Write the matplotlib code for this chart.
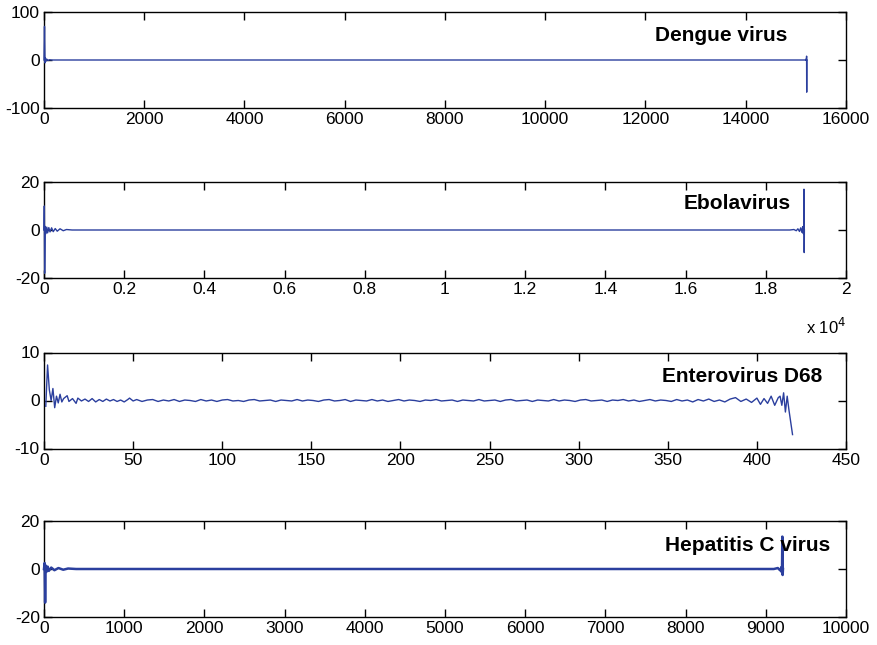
import matplotlib
matplotlib.use("Agg")
import matplotlib.pyplot as plt
from matplotlib.ticker import FuncFormatter, MultipleLocator

plt.rcParams['font.family'] = ['Liberation Sans', 'DejaVu Sans']
plt.rcParams['axes.unicode_minus'] = False

# ---- data (key points) ----
dengue_x = [0, 10, 20, 30, 45, 60, 80, 110, 150, 200, 15180, 15200, 15205, 15210, 15214, 15216, 15218]
dengue_y = [0, 70, -6, 4, -2, 1.5, -1, 0.5, 0, 0, 0, 0.5, 2, -1, 8, -67, 0]

ebola_x = [0, 8, 16, 30, 50, 70, 90, 120, 150, 190, 230, 280, 330, 400, 480, 560, 700,
           18600, 18700, 18760, 18800, 18840, 18870, 18900, 18920, 18935, 18945, 18952, 18958, 18962]
ebola_y = [0, 10, -18, 1.5, -1.5, 1.2, -1.2, 1.0, -0.8, 0.9, -0.7, 0.6, -0.5, 0.5, -0.3, 0.2, 0,
           0, 0.2, -0.3, 0.5, -0.6, 0.9, -1.0, 1.4, -1.5, 1.8, 17, -9.4, 0]

# Enterovirus D68: start, middle (every 3rd position from 55) and end segments
entero_start_x = [1, 2, 3, 4, 5, 6, 7, 8, 9, 10, 11, 13, 14, 16, 18, 19, 21, 23, 25, 27, 29,
                  31, 33, 35, 37, 39, 41, 43, 45, 47, 48, 50, 52]
entero_start_y = [-1.2, 7.4, 2.2, 0.0, 2.5, -1.5, 0.9, -0.5, 1.3, -0.3, 0.4, 1.0, -0.2, 0.4,
                  -0.6, 0.5, -0.1, 0.3, -0.2, 0.4, -0.3,
                  0.2, -0.2, 0.3, -0.1, 0.2, -0.2, 0.1, -0.3, 0.2, 0.5, -0.1, 0.2]
entero_mid_y = [-0.2, 0.1, 0.2, -0.2, 0.1, -0.1, 0.2, -0.2, 0.1, 0.0,
                -0.2, 0.2, -0.1, 0.1, -0.2, 0.1, 0.2, -0.1, 0.0, -0.2,
                0.1, 0.2, -0.1, 0.0, 0.1, -0.2, 0.1, 0.0, -0.1, 0.2,
                -0.1, 0.1, 0.0, -0.2, 0.1, 0.2, -0.1, 0.0, 0.2, -0.2,
                0.1, 0.0, -0.1, 0.2, -0.1, 0.1, -0.2, 0.0, 0.2, -0.1,
                0.1, 0.0, -0.2, 0.1, 0.0, 0.2, -0.1, 0.0, 0.1, -0.2,
                0.1, 0.0, -0.1, 0.2, -0.1, 0.0, 0.1, -0.2, 0.1, 0.2,
                -0.1, 0.0, 0.1, -0.2, 0.1, 0.0, -0.1, 0.2, -0.1, 0.1,
                0.0, -0.2, 0.1, 0.2, -0.1, 0.0, 0.1, -0.2, 0.1, 0.0,
                0.2, -0.1, 0.1, -0.2, 0.0, 0.2, -0.1, 0.1, 0.0, -0.2,
                0.2, -0.1, 0.1, -0.3, 0.2, -0.1, 0.3, -0.2, 0.1, -0.3,
                0.3, 0.6, -0.2, 0.3, -0.4]
entero_mid_x = list(range(55, 55 + 3 * len(entero_mid_y), 3))
entero_end_x = [400, 402, 404, 406, 408, 410, 412, 413, 414, 415, 416, 417, 418, 419, 420]
entero_end_y = [0.5, -0.8, 0.4, -0.6, 0.9, -1.0, 0.6, 0.9, -1.0, 1.6, -2.4, 0.9, -2.0, -4.5, -7.1]
entero_x = entero_start_x + entero_mid_x + entero_end_x
entero_y = entero_start_y + entero_mid_y + entero_end_y

hepc_x = [0, 8, 14, 20, 30, 45, 60, 90, 130, 180, 240, 300, 400, 9100, 9150, 9180, 9195, 9202, 9206, 9210, 9214]
hepc_y = [0, 2.5, -14, 1.5, -1.2, 1.0, -0.8, 0.6, -0.5, 0.4, -0.3, 0.2, 0, 0, 0.4, -0.6, 0.8, -1.5, 13.5, -2.5, 0]

titles = ["Dengue virus", "Ebolavirus", "Enterovirus D68", "Hepatitis C virus"]
xs = [dengue_x, ebola_x, entero_x, hepc_x]
ys = [dengue_y, ebola_y, entero_y, hepc_y]
xlims = [(0, 16000), (0, 20000), (0, 450), (0, 10000)]
xsteps = [2000, 2000, 50, 1000]
ylims = [(-100, 100), (-20, 20), (-10, 10), (-20, 20)]
title_pos = [(0.762, 0.758), (0.797, 0.771), (0.771, 0.745), (0.774, 0.74)]
line_widths = [1.0, 1.0, 1.0, 1.8]

line_color = '#2b3f9e'

fig = plt.figure(figsize=(8.78, 6.45), dpi=100)
left = 44 / 878
width = (846 - 44) / 878
bottoms_px = [108, 278, 448.5, 617]
height = 96 / 645

for i in range(4):
    ax = fig.add_axes([left, 1 - bottoms_px[i] / 645, width, height])
    ax.plot(xs[i], ys[i], color=line_color, linewidth=line_widths[i], zorder=3, clip_on=False)
    ax.set_xlim(*xlims[i])
    ax.set_ylim(*ylims[i])
    ax.xaxis.set_major_locator(MultipleLocator(xsteps[i]))
    ax.set_yticks([ylims[i][0], 0, ylims[i][1]])
    ax.tick_params(direction='in', top=True, right=True, length=5.5, width=1,
                   labelsize=12.5, pad=3, colors='black')
    for s in ax.spines.values():
        s.set_linewidth(1.0)
        s.set_color('black')
    if i == 1:
        ax.xaxis.set_major_formatter(FuncFormatter(lambda v, p: ('%g' % (v / 1e4))))
    ax.text(title_pos[i][0], title_pos[i][1], titles[i], transform=ax.transAxes,
            fontsize=15, fontweight='bold', ha='left', va='center')

fig.text(846 / 878, 1 - 327 / 645, r'x 10$^{4}$', ha='right', va='center', fontsize=12)

fig.savefig('out.png', dpi=100)
